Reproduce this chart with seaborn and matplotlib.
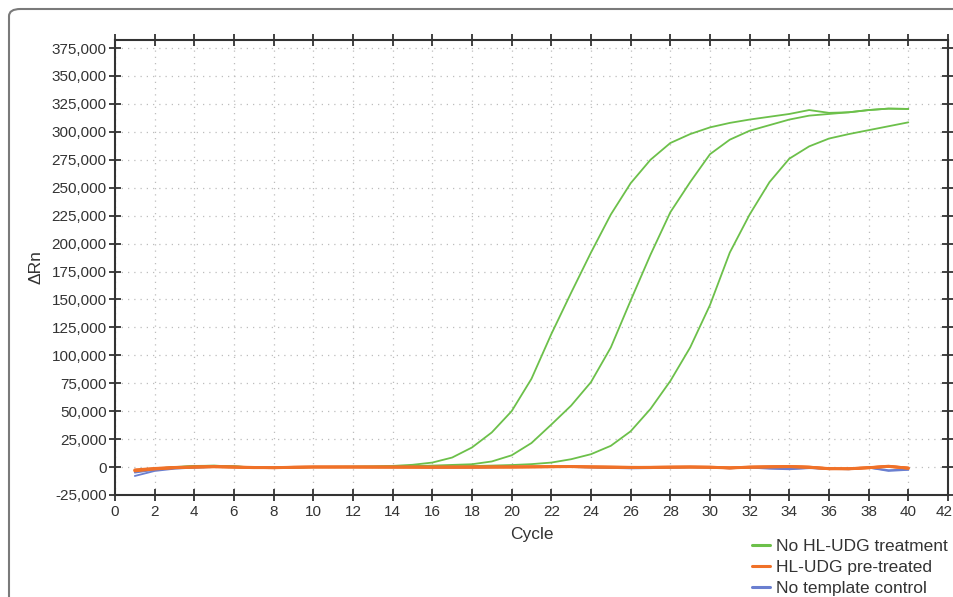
import numpy as np
import pandas as pd
import matplotlib
matplotlib.use("Agg")
import matplotlib.pyplot as plt
import matplotlib.transforms as mtransforms
from matplotlib.lines import Line2D
from matplotlib.patches import FancyBboxPatch
import seaborn as sns

cycles = list(range(1, 41))

green_1 = [-3000, -1500, 0, 1000, 1200, 500, -500, -800, -300, 0,
           200, 300, 500, 1000, 2000, 4000, 8500, 17500, 31000, 50000,
           79000, 119000, 156000, 192000, 226000, 254000, 275000, 290000, 298000, 304000,
           308000, 311000, 313500, 316000, 319500, 317000, 317500, 319500, 320800, 320500]
green_2 = [-3500, -2000, -500, 500, 1000, 500, -300, -700, -300, 0,
           100, 200, 300, 500, 800, 1300, 1900, 2500, 5000, 10500,
           21500, 38000, 55000, 76000, 107000, 149000, 190000, 228000, 255000, 280000,
           293000, 301000, 306000, 311000, 314500, 316000, 317500, 319500, 320800, 320500]
green_3 = [-3000, -1800, -300, 800, 1200, 600, -400, -800, -400, 0,
           100, 100, 200, 300, 400, 500, 700, 900, 1300, 1800,
           2600, 4000, 7000, 11500, 19000, 32000, 52000, 77000, 107000, 145000,
           192000, 226000, 255000, 276000, 287000, 294000, 298000, 301500, 305000, 308500]

orange_1 = [-3000, -1500, -500, 0, 500, 0, -500, -600, -200, 0,
            0, 0, 0, 0, 0, 0, 0, 0, 0, 0,
            200, 300, 500, 200, 0, -300, -300, -200, 0, 0,
            -800, 0, 300, 600, 0, -1500, -1500, -500, 800, -1000]
orange_2 = [-2500, -1200, -300, 200, 300, -200, -600, -500, -100, 100,
            100, 0, 0, 0, -100, -200, -200, -100, 0, 100,
            200, 400, 400, 100, -100, -200, -300, -100, 0, -200,
            -600, -100, 200, 400, -100, -1300, -1700, -700, 500, -800]
orange_3 = [-3500, -1800, -700, -200, 200, 100, -300, -700, -300, 0,
            0, 100, 0, -100, -100, -100, 0, 0, 100, 0,
            100, 200, 300, 0, -200, -400, -200, 0, 100, -300,
            -900, -200, 100, 300, -300, -1600, -1400, -600, 600, -1200]

blue_1 = [-8000, -3500, -1500, -500, 0, 0, -300, -500, -200, 0,
          0, 0, 0, 0, 0, -200, -300, -300, -200, 0,
          0, 0, 0, -300, -800, -1200, -1000, -500, -200, -300,
          -1000, -500, -1500, -2000, -1000, -1500, -2000, -500, -3500, -2500]
blue_2 = [-5000, -2500, -1000, -300, 100, 0, -400, -600, -200, 0,
          0, 0, -100, -100, -100, -300, -400, -300, -100, 0,
          100, 100, 0, -200, -600, -900, -800, -400, -100, -400,
          -1200, -300, -1000, -1600, -800, -1700, -1800, -600, -2800, -2200]

y_ticks = list(range(-25000, 375001, 25000))
x_ticks = list(range(0, 43, 2))
labels = ["No HL-UDG treatment", "HL-UDG pre-treated", "No template control"]

GREEN = "#6cc04a"
ORANGE = "#f07128"
BLUE = "#6a7fd0"

rows = []
for name, ser, grp in [("g1", green_1, "green"), ("g2", green_2, "green"), ("g3", green_3, "green"),
                       ("b1", blue_1, "blue"), ("b2", blue_2, "blue"),
                       ("o1", orange_1, "orange"), ("o2", orange_2, "orange"), ("o3", orange_3, "orange")]:
    for c, v in zip(cycles, ser):
        rows.append({"run": name, "cycle": c, "drn": v, "grp": grp})
df = pd.DataFrame(rows)

sns.set_theme(style="white")
plt.rcParams['font.family'] = ['Liberation Sans', 'DejaVu Sans']

fig = plt.figure(figsize=(9.54, 5.97), dpi=100)
ax = fig.add_axes([0.1205, 0.1709, 0.8732, 0.7621])

styles = {"green": (GREEN, 1.3), "blue": (BLUE, 1.3), "orange": (ORANGE, 2.0)}
for name in ["g1", "g2", "g3", "b1", "b2", "o1", "o2", "o3"]:
    sub = df[df.run == name]
    col, lw = styles[sub.grp.iloc[0]]
    sns.lineplot(data=sub, x="cycle", y="drn", ax=ax, color=col, linewidth=lw,
                 legend=False, estimator=None)

ax.set_xlim(0, 42)
ax.set_ylim(-25000, 382200)
ax.set_xticks(x_ticks)
ax.set_yticks(y_ticks)
ax.set_yticklabels([f"{v:,}" for v in y_ticks])
ax.grid(True, linestyle=(0, (1, 4)), color="#bdbdbd", linewidth=0.9)
ax.set_axisbelow(True)
for s in ax.spines.values():
    s.set_visible(True)
    s.set_color("#333333")
    s.set_linewidth(1.5)
ax.tick_params(axis="both", which="both", direction="inout", length=8, width=1.3,
               color="#333333", labelsize=11, labelcolor="#333333",
               top=True, right=True, bottom=True, left=True,
               labeltop=False, labelright=False)
ax.tick_params(axis="x", pad=3)
ax.tick_params(axis="y", pad=2)
ax.set_xlabel("Cycle", fontsize=12.5, color="#333333", labelpad=6)
ax.set_ylabel("ΔRn", fontsize=12.5, color="#333333", labelpad=6)

# keep the last x tick label ("42") inside the canvas
last = ax.get_xticklabels()[-1]
last.set_transform(last.get_transform() +
                   mtransforms.ScaledTranslation(-4 / 100, 0, fig.dpi_scale_trans))

handles = [Line2D([0], [0], color=GREEN, lw=2.2),
           Line2D([0], [0], color=ORANGE, lw=2.2),
           Line2D([0], [0], color=BLUE, lw=2.2)]
fig.legend(handles, labels, loc="upper left", bbox_to_anchor=(0.788, 0.098),
           frameon=False, fontsize=12.5, handlelength=1.05, handletextpad=0.35,
           labelspacing=0.36, borderpad=0, borderaxespad=0, labelcolor="#333333")

frame = FancyBboxPatch((9 / 954, -0.1), 1.2, 1 - 9 / 597 + 0.1,
                       boxstyle="round,pad=0,rounding_size=0.012",
                       transform=fig.transFigure, fill=False,
                       edgecolor="#7a7a7a", linewidth=1.5, zorder=-1)
fig.patches.append(frame)

fig.savefig("out.png", dpi=100)
